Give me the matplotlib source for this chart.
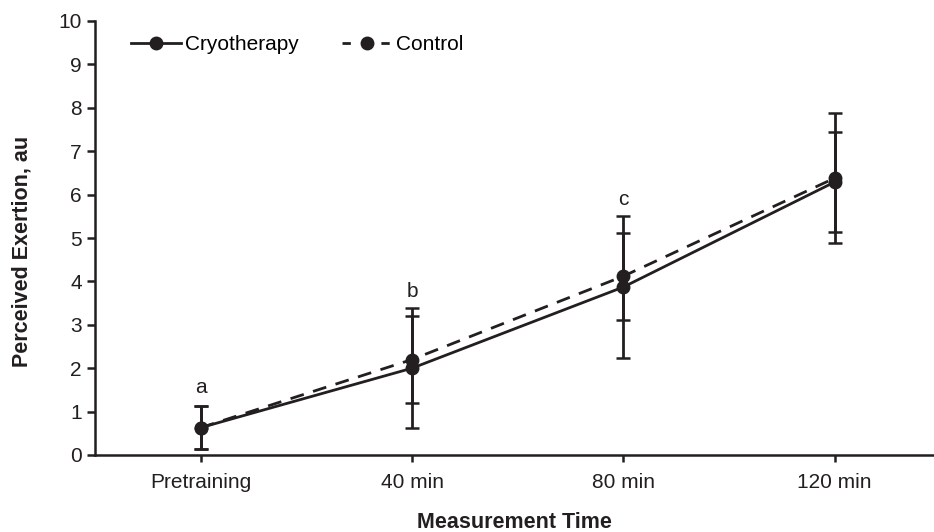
import matplotlib
matplotlib.use('Agg')
import matplotlib.pyplot as plt
from matplotlib.lines import Line2D

plt.rcParams['font.family'] = ['Liberation Sans', 'DejaVu Sans']

categories = ['Pretraining', '40 min', '80 min', '120 min']
cryo_mean = [0.63, 2.0, 3.87, 6.29]
cryo_sd = [0.5, 1.38, 1.64, 1.15]
control_mean = [0.63, 2.2, 4.12, 6.38]
control_sd = [0.5, 1.0, 1.0, 1.5]
sig_labels = ['a', 'b', 'c', '']
sig_y = [1.43, 3.64, 5.76, 0]

W, H = 934, 532
fig = plt.figure(figsize=(W / 100, H / 100), dpi=100)
ax = fig.add_axes([95 / W, (H - 455) / H, (934 - 95) / W, (455 - 21) / H])

x = list(range(len(categories)))
col = '#231f20'

ax.errorbar(x, control_mean, yerr=control_sd, color=col, ls='--', lw=2,
            marker='o', ms=9, capsize=5, capthick=1.8, elinewidth=2,
            dashes=(5, 3.5), zorder=3)
ax.errorbar(x, cryo_mean, yerr=cryo_sd, color=col, ls='-', lw=2,
            marker='o', ms=9, capsize=5, capthick=1.8, elinewidth=2,
            zorder=4)

for xi, lab, yy in zip(x, sig_labels, sig_y):
    if lab:
        ax.text(xi, yy, lab, ha='center', va='baseline', fontsize=15, color=col)

ax.set_xlim(-0.5, 3.47)
ax.set_ylim(0, 10)
ax.set_yticks(range(0, 11))
ax.set_xticks(x)
ax.set_xticklabels(categories)
ax.tick_params(axis='both', labelsize=15, colors=col, width=1.8, length=6)
ax.tick_params(axis='x', length=5, pad=8)
for s in ['top', 'right']:
    ax.spines[s].set_visible(False)
for s in ['left', 'bottom']:
    ax.spines[s].set_linewidth(1.8)
    ax.spines[s].set_color(col)

ax.set_ylabel('Perceived Exertion, au', fontsize=15.5, fontweight='bold',
              color=col, va='center')
ax.yaxis.set_label_coords(-0.087, 0.468)
fig.text((95 + 934) / 2 / W, 4 / H, 'Measurement Time', fontsize=15.5,
         fontweight='bold', color=col, ha='center', va='baseline')

handles = [
    Line2D([], [], color=col, ls='-', lw=2, marker='o', ms=9),
    Line2D([], [], color=col, ls='--', lw=2, marker='o', ms=9, dashes=(3, 4)),
]
ax.legend(handles, ['Cryotherapy', 'Control'], loc='upper left', ncol=2,
          frameon=False, fontsize=15, bbox_to_anchor=(0.02, 1.01),
          handlelength=2.4, columnspacing=2.1, handletextpad=0.2)

fig.savefig('out.png', dpi=100)
